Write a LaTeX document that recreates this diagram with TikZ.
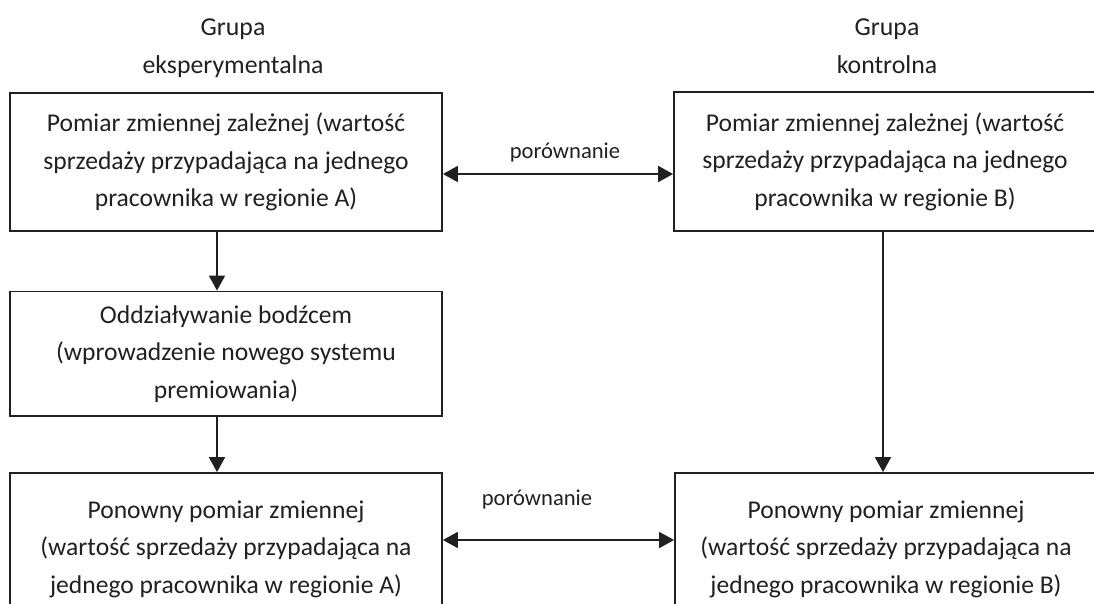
\documentclass[tikz,border=0pt]{standalone}
\usepackage{fontspec}
\setmainfont{Carlito}
\usetikzlibrary{arrows.meta}
\definecolor{ink}{HTML}{231F20}
\begin{document}
\begin{tikzpicture}[x=1pt,y=-1pt,
  every node/.style={text=ink},
  boxtext/.style={font=\fontsize{25.6}{37.5}\selectfont},
  stepbox/.style={draw=ink, line width=1.8pt, inner sep=0pt, align=center, boxtext},
  head/.style={anchor=base, font=\fontsize{25.8}{30}\selectfont},
  lbl/.style={font=\fontsize{22.6}{26}\selectfont},
  flow/.style={draw=ink, line width=1.8pt, -{Triangle[length=15pt,width=16pt]}},
  both/.style={draw=ink, line width=1.8pt, {Triangle[length=15pt,width=16pt]}-{Triangle[length=15pt,width=16pt]}}
]
\useasboundingbox (0,0) rectangle (1094,603);
\clip (0,0) rectangle (1094,603);

% column headings
\node[head] (h1a) at (233,35) {Grupa};
\node[head] (h1b) at (233,73) {eksperymentalna};
\node[head] (h2a) at (887,35) {Grupa};
\node[head] (h2b) at (887,73) {kontrolna};

% experimental group
\node[stepbox, minimum width=432pt, minimum height=138pt] (A1) at (226,162)
  {Pomiar zmiennej zależnej (wartość\\sprzedaży przypadająca na jednego\\pracownika w regionie A)};
\node[stepbox, minimum width=432pt, minimum height=124.5pt] (A2) at (226,353.75)
  {Oddziaływanie bodźcem\\(wprowadzenie nowego systemu\\premiowania)};
\node[stepbox, minimum width=432pt, minimum height=152pt] (A3) at (226,549)
  {Ponowny pomiar zmiennej\\(wartość sprzedaży przypadająca na\\jednego pracownika w regionie A)};

% control group
\node[stepbox, minimum width=422pt, minimum height=139pt] (B1) at (885,161.5)
  {Pomiar zmiennej zależnej (wartość\\sprzedaży przypadająca na jednego\\pracownika w regionie B)};
\node[stepbox, minimum width=422pt, minimum height=152pt] (B3) at (886,549)
  {Ponowny pomiar zmiennej\\(wartość sprzedaży przypadająca na\\jednego pracownika w regionie B)};

% flow within groups
\draw[flow] ([xshift=-9pt]A1.south) -- ([xshift=-9pt]A2.north);
\draw[flow] ([xshift=-9pt]A2.south) -- ([xshift=-9pt]A3.north);
\draw[flow] ([xshift=-2pt]B1.south) -- ([xshift=-3pt]B3.north);

% comparisons between groups
\draw[both] ([yshift=-12pt]A1.east) -- ([yshift=-12.5pt]B1.west);
\node[lbl] (c1) at (565,153) {porównanie};
\draw[both] ([yshift=9pt]A3.east) -- ([yshift=9pt]B3.west);
\node[lbl] (c2) at (537,500) {porównanie};
\end{tikzpicture}
\end{document}
